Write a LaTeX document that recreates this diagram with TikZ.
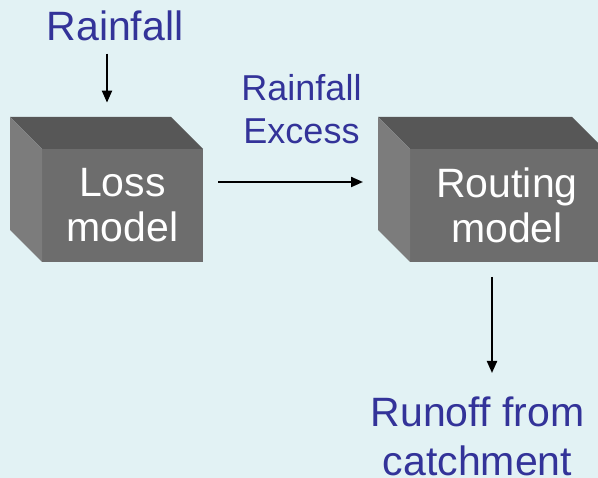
\documentclass[tikz,border=0pt]{standalone}
\usepackage{fontspec}
\setmainfont{Liberation Sans}
\definecolor{backdrop}{RGB}{226,242,244}
\definecolor{ink}{RGB}{51,51,153}
\definecolor{facefront}{RGB}{109,109,109}
\definecolor{facetop}{RGB}{87,87,87}
\definecolor{faceside}{RGB}{124,124,124}
\usetikzlibrary{arrows.meta,positioning,calc}

\begin{document}
\begin{tikzpicture}[x=1pt, y=-1pt,
    modelbox/.style={rectangle, fill=facefront, inner sep=0pt, outer sep=0pt,
      align=center, text=white, font=\fontsize{41}{45}\selectfont},
    tag/.style={inner sep=0pt, align=center, text=ink, font=\fontsize{41}{49}\selectfont},
    flow/.style={-{Triangle[length=12pt, width=10pt]}, line width=2.1pt, black}]
          \useasboundingbox (0,0) rectangle (598,478);
          \fill[backdrop] (0,0) rectangle (598,478);
          % front faces of the two blocks
          \node[modelbox, minimum width=161pt, minimum height=113pt] (loss) at (122.5,205.5) {Loss\\model};
          \node[modelbox, minimum width=194pt, minimum height=113pt] (route) at (507,205.5) {Routing\\model};
          \foreach \b in {loss,route} {
            \fill[facetop] (\b.north west) -- ([shift={(-32,-32)}]\b.north west)
              -- ([shift={(-32,-32)}]\b.north east) -- (\b.north east) -- cycle;
            \fill[faceside] (\b.north west) -- ([shift={(-32,-32)}]\b.north west)
              -- ([shift={(-32,-32)}]\b.south west) -- (\b.south west) -- cycle;
          }
          % labels
          \node[tag, anchor=base] (rain) at (115,41) {Rainfall};
          \node[tag, anchor=north, font=\fontsize{36}{43}\selectfont] (excess) at (301.5,74) {Rainfall\\Excess};
          \node[tag, anchor=north] (runoff) at (477.5,397) {Runoff from\\catchment};
          % arrows
          \draw[flow] ([xshift=-8pt, yshift=-12pt]rain.south) -- ++(0,49);
          \draw[flow] ([xshift=15pt, yshift=23.5pt]loss.east) -- ++(145,0);
          \draw[flow] ([xshift=-15pt, yshift=-15pt]route.south) -- ++(0,96);
        \end{tikzpicture}
\end{document}
